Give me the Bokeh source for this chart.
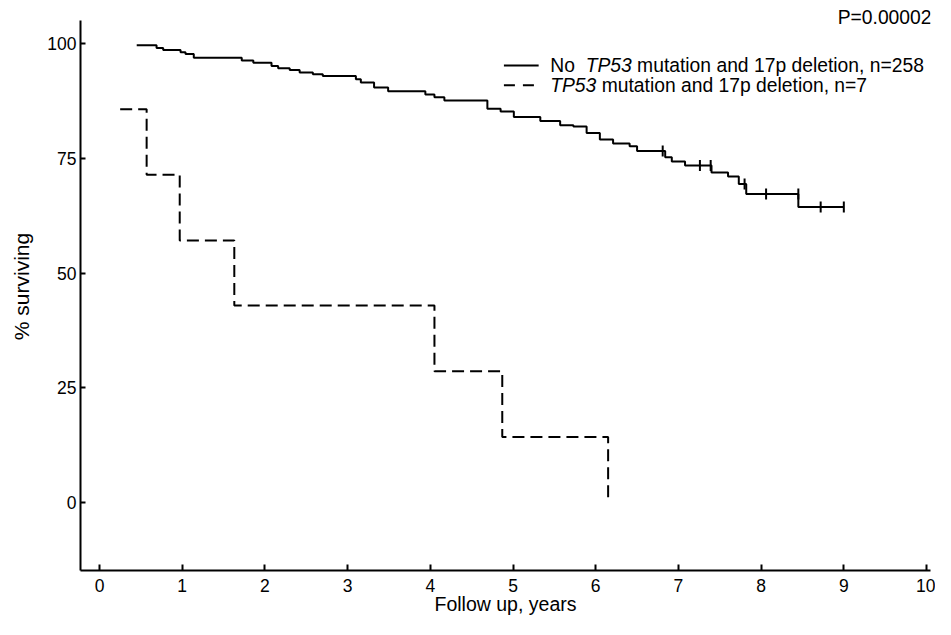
from bokeh.plotting import figure
from bokeh.models import Label, FixedTicker
from bokeh.embed import file_html
from bokeh.resources import INLINE
import numpy as np

# ---------------- data ----------------
# Group without TP53 mutation / 17p deletion (Kaplan-Meier steps)
no_mut_time = [0.45, 0.69, 0.77, 0.98, 1.04, 1.14, 1.72, 1.86, 2.08, 2.16, 2.30, 2.42,
               2.58, 2.70, 3.10, 3.16, 3.32, 3.49, 3.94, 4.05, 4.17, 4.69, 4.85, 5.01,
               5.33, 5.57, 5.73, 5.89, 6.05, 6.21, 6.41, 6.50, 6.84, 6.92, 7.08, 7.40,
               7.60, 7.73, 7.82, 8.45, 9.00]
no_mut_surv = [99.6, 99.0, 98.6, 98.1, 97.7, 96.9, 96.3, 95.8, 95.1, 94.6, 94.2, 93.7,
               93.3, 92.9, 92.2, 91.5, 90.4, 89.6, 88.9, 88.3, 87.6, 85.8, 85.2, 84.0,
               83.1, 82.2, 81.9, 80.5, 79.1, 78.2, 77.6, 76.6, 75.2, 74.3, 73.4, 71.9,
               71.0, 69.4, 67.2, 64.4, 64.4]
# censored observations (tick marks)
censor_time = [6.81, 7.26, 7.39, 7.80, 8.06, 8.45, 8.72, 9.00]
censor_surv = [76.6, 73.4, 73.4, 69.4, 67.2, 67.2, 64.4, 64.4]

# Group with TP53 mutation and 17p deletion
mut_time = [0.25, 0.57, 0.97, 1.63, 4.05, 4.87, 6.15]
mut_surv = [85.7, 71.4, 57.1, 42.9, 28.6, 14.3, 0.0]

x_ticks = [0, 1, 2, 3, 4, 5, 6, 7, 8, 9, 10]
y_ticks = [0, 25, 50, 75, 100]

# legend rows: (text, font style, spaces before)
legend_rows = [
    [("No", "normal", 0), ("TP53", "italic", 2), ("mutation and 17p deletion, n=258", "normal", 1)],
    [("TP53", "italic", 0), ("mutation and 17p deletion, n=7", "normal", 1)],
]
p_value_text = "P=0.00002"
x_label = "Follow up, years"
y_label = "% surviving"

# ---------------- helpers ----------------
W = {' ': 278, '%': 889, ',': 278, '.': 278, '=': 584, 'P': 667, 'T': 611, 'N': 722,
     'a': 556, 'b': 556, 'c': 500, 'd': 556, 'e': 556, 'f': 278, 'g': 556, 'h': 556,
     'i': 222, 'j': 222, 'k': 500, 'l': 222, 'm': 833, 'n': 556, 'o': 556, 'p': 556,
     'q': 556, 'r': 333, 's': 500, 't': 278, 'u': 556, 'v': 500, 'w': 722, 'x': 500,
     'y': 500, 'z': 500}


def text_w(s, size):
    return sum(W.get(c, 556) for c in s) / 1000.0 * size


FONT = "Liberation Sans"
TICK_FS = 17.5
XL_FS = 19.5
YL_FS = 21
LEG_FS = 19.3

Y_LO, Y_AXIS_TOP = -14.81, 105.01

p = figure(width=935, height=619, x_range=(-0.2297, 10.048), y_range=(Y_LO, 108.93),
           output_backend="svg", toolbar_location=None,
           min_border_left=80, min_border_right=5, min_border_top=2, min_border_bottom=49)
p.grid.visible = False
p.outline_line_color = None

for ax in (p.xaxis, p.yaxis):
    ax.axis_line_width = 2
    ax.axis_line_color = "black"
    ax.major_tick_line_width = 2
    ax.major_tick_line_color = "black"
    ax.major_tick_out = 0
    ax.minor_tick_line_color = None
    ax.major_label_text_font = FONT
    ax.major_label_text_font_size = f"{TICK_FS}px"
    ax.major_label_text_color = "black"
    ax.axis_label_text_font = FONT
    ax.axis_label_text_font_style = "normal"
    ax.axis_label_text_color = "black"

p.yaxis.bounds = (Y_LO, Y_AXIS_TOP)
p.xaxis.ticker = FixedTicker(ticks=x_ticks)
p.yaxis.ticker = FixedTicker(ticks=y_ticks)
p.xaxis.major_tick_in = 6
p.yaxis.major_tick_in = 5
p.xaxis.major_label_standoff = 8
p.yaxis.major_label_standoff = 4

p.yaxis.axis_label = y_label
p.yaxis.axis_label_text_font_size = f"{YL_FS}px"
p.yaxis.axis_label_standoff = 11

p.xaxis.axis_label = x_label
p.xaxis.axis_label_text_font_size = f"{XL_FS}px"
p.xaxis.axis_label_standoff = -2

# curves
p.step(no_mut_time, no_mut_surv, mode="after", line_color="black", line_width=2)
p.scatter(censor_time, censor_surv, marker="dash", angle=np.pi / 2, size=11,
          line_color="black", line_width=2)
p.step(mut_time, mut_surv, mode="after", line_color="black", line_width=2,
       line_dash="12 6")

# legend (manual, to allow the italic gene name)
leg_x0, leg_x1, leg_text_x = 4.89, 5.31, 5.45
leg_y = [95.2, 90.9]
dashes = ["solid", "11 8"]
for i, row in enumerate(legend_rows):
    p.segment(x0=[leg_x0], y0=[leg_y[i]], x1=[leg_x1], y1=[leg_y[i]],
              line_color="black", line_width=2, line_dash=dashes[i])
    off = 0.0
    for txt, style, nsp in row:
        off += nsp * text_w(" ", LEG_FS)
        p.add_layout(Label(x=leg_text_x, y=leg_y[i], x_offset=off, text=txt,
                           text_font=FONT, text_font_size=f"{LEG_FS}px",
                           text_font_style=style, text_baseline="middle",
                           text_align="left", text_color="black"))
        off += text_w(txt, LEG_FS)

p.add_layout(Label(x=10.06, y=105.7, text=p_value_text, text_font=FONT,
                   text_font_size=f"{LEG_FS}px", text_align="right",
                   text_baseline="middle", text_color="black"))

open("out.html", "w").write(file_html(p, INLINE))
